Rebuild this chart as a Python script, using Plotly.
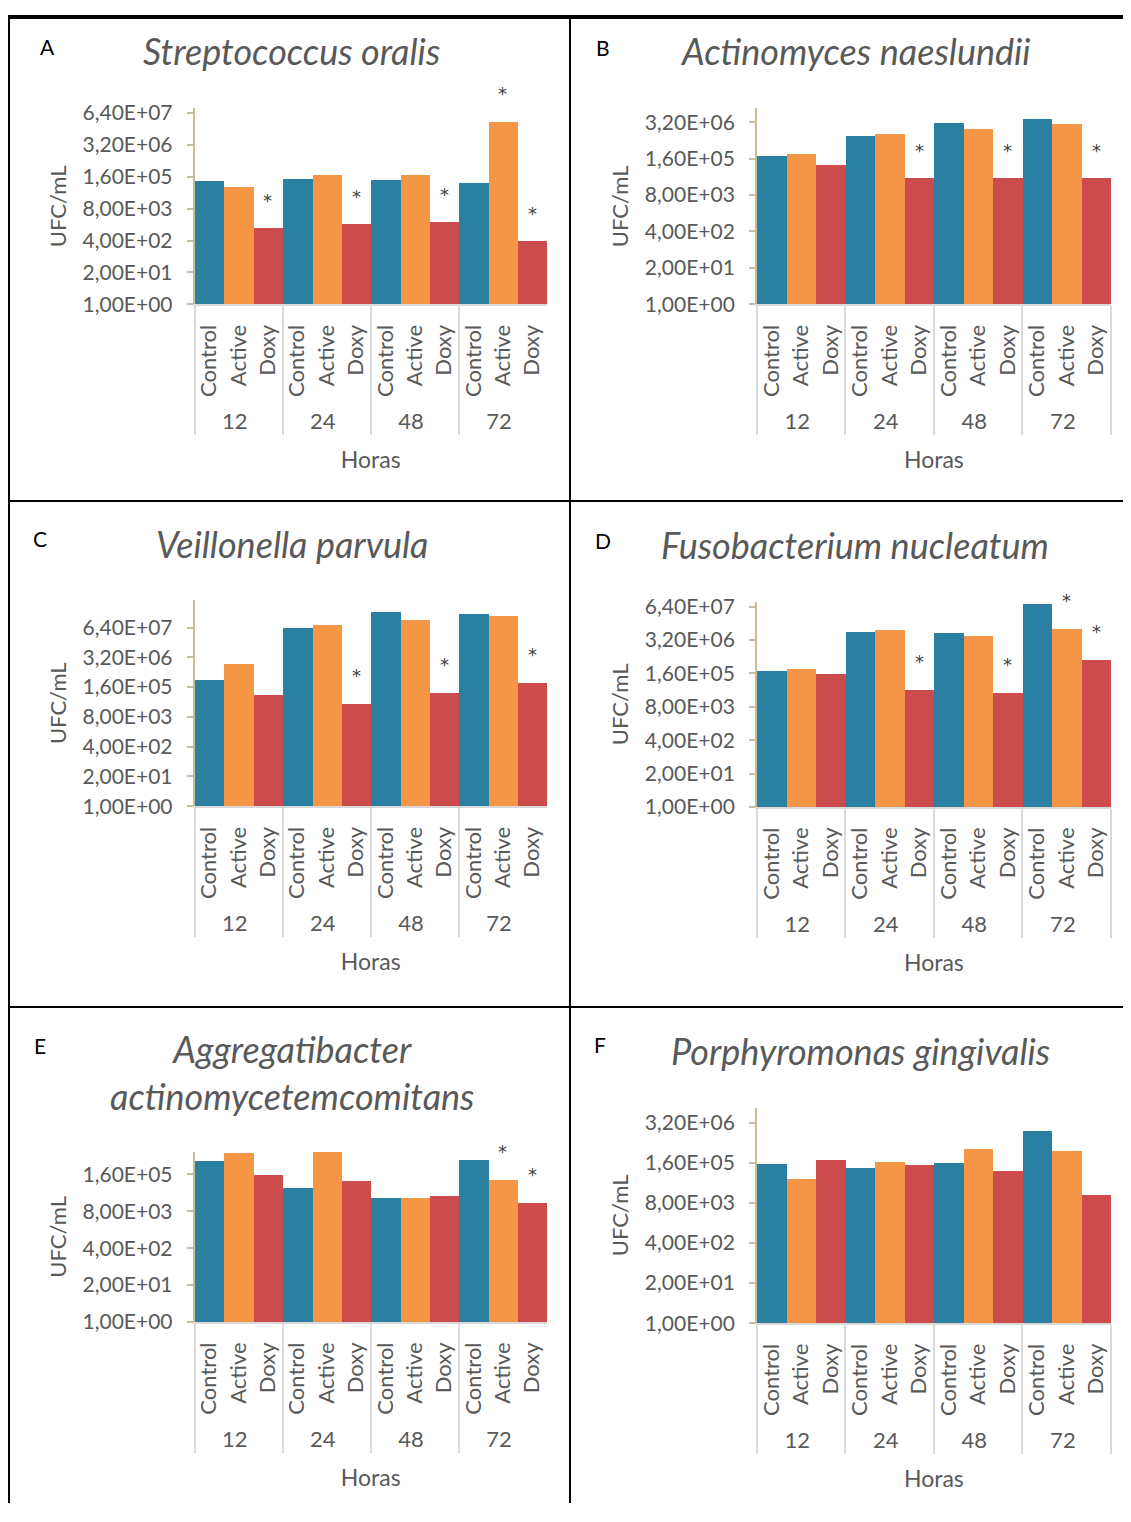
import math
import plotly.graph_objects as go

# the page body keeps its default 8px margin: the figure is sized to fit the window
OX, OY = 8, 8
FW, FH = 1131 - 2 * OX, 1522 - 2 * OY
# measured vertical mapping of the photograph (photo_y = SY * window_y + BY)
SY, BY = 0.9868, 8.1

hours = ["12", "24", "48", "72"]
treatments = ["Control", "Active", "Doxy"]
bar_colors = ["#2B7FA1", "#F59646", "#CC4B4C"]

letters = ["A", "B", "C", "D", "E", "F"]
titles = ["Streptococcus oralis", "Actinomyces naeslundii", "Veillonella parvula",
          "Fusobacterium nucleatum", "Aggregatibacter<br>actinomycetemcomitans",
          "Porphyromonas gingivalis"]

# UFC/mL values, one list per treatment, ordered by hours (12, 24, 48, 72)
A_control = [1.0e5, 1.23e5, 1.12e5, 8.5e4]
A_active = [5.8e4, 1.78e5, 1.78e5, 2.77e7]
A_doxy = [1.25e3, 1.82e3, 2.2e3, 372]

B_control = [1.87e5, 9.7e5, 2.8e6, 4.2e6]
B_active = [2.28e5, 1.17e6, 1.77e6, 2.7e6]
B_doxy = [9.2e4, 3.2e4, 3.2e4, 3.2e4]

C_control = [3.2e5, 6.0e7, 3.0e8, 2.45e8]
C_active = [1.66e6, 8.3e7, 1.38e8, 2.08e8]
C_doxy = [7.3e4, 2.95e4, 8.9e4, 2.45e5]

D_control = [2.04e5, 6.6e6, 6.3e6, 8.3e7]
D_active = [2.45e5, 7.9e6, 4.66e6, 8.7e6]
D_doxy = [1.58e5, 3.7e4, 2.9e4, 5.5e5]

E_control = [5.0e5, 5.2e4, 2.46e4, 5.3e5]
E_active = [9.6e5, 1.0e6, 2.46e4, 1.07e5]
E_doxy = [1.6e5, 9.8e4, 2.7e4, 1.6e4]

F_control = [1.47e5, 1.1e5, 1.59e5, 1.73e6]
F_active = [4.8e4, 1.83e5, 4.5e5, 3.9e5]
F_doxy = [2.0e5, 1.36e5, 9.3e4, 1.45e4]

# significance marks (1 = '*') per treatment, ordered by hours
A_sig = {"Control": [0, 0, 0, 0], "Active": [0, 0, 0, 1], "Doxy": [1, 1, 1, 1]}
B_sig = {"Control": [0, 0, 0, 0], "Active": [0, 0, 0, 0], "Doxy": [0, 1, 1, 1]}
C_sig = {"Control": [0, 0, 0, 0], "Active": [0, 0, 0, 0], "Doxy": [0, 1, 1, 1]}
D_sig = {"Control": [0, 0, 0, 0], "Active": [0, 0, 0, 1], "Doxy": [0, 1, 1, 1]}
E_sig = {"Control": [0, 0, 0, 0], "Active": [0, 0, 0, 1], "Doxy": [0, 0, 0, 1]}
F_sig = {"Control": [0, 0, 0, 0], "Active": [0, 0, 0, 0], "Doxy": [0, 0, 0, 0]}

tick_labels_all = ["1,00E+00", "2,00E+01", "4,00E+02", "8,00E+03", "1,60E+05", "3,20E+06", "6,40E+07"]
A_ticks = tick_labels_all[:7]
B_ticks = tick_labels_all[:6]
C_ticks = tick_labels_all[:7]
D_ticks = tick_labels_all[:7]
E_ticks = tick_labels_all[:5]
F_ticks = tick_labels_all[:6]

y_max_log = [8, 7, 9, 8, 6, 7]

panels = [
    (A_control, A_active, A_doxy, A_sig, A_ticks),
    (B_control, B_active, B_doxy, B_sig, B_ticks),
    (C_control, C_active, C_doxy, C_sig, C_ticks),
    (D_control, D_active, D_doxy, D_sig, D_ticks),
    (E_control, E_active, E_doxy, E_sig, E_ticks),
    (F_control, F_active, F_doxy, F_sig, F_ticks),
]

# plot areas in picture pixels: x0, x1, ytop, ybottom
boxes = [
    (194.5, 547, 107.3, 303.3),
    (756.8, 1111, 107.3, 303.3),
    (194.5, 547, 599.3, 805.3),
    (756.8, 1111, 600.7, 806.0),
    (194.5, 547, 1151.0, 1321.0),
    (756.8, 1111, 1106.7, 1322.3),
]
title_pos = [(291, 50), (855, 50), (292, 543), (855, 544), (292, 1072), (860, 1050)]
letter_pos = [(47, 45), (603, 46), (40, 538), (603, 540), (40, 1045), (600, 1044)]


def px(x):
    return (x - OX) / FW


def py(y):
    return 1 - ((y - BY) / SY - OY) / FH


def clamp(v):
    return max(0.0, min(1.0, v))


GRAY = "#595959"
FONT = "Lato"

fig = go.Figure()
layout = dict(width=FW, height=FH, margin=dict(l=0, r=0, t=0, b=0), autosize=False,
              paper_bgcolor="white", plot_bgcolor="white", showlegend=False,
              bargap=0, bargroupgap=0, barmode="overlay",
              font=dict(family=FONT, color=GRAY))

annotations = []
for i, (ctrl, act, dox, sig, ticks) in enumerate(panels):
    n = i + 1
    xa = "x" if n == 1 else f"x{n}"
    ya = "y" if n == 1 else f"y{n}"
    series = [ctrl, act, dox]
    for t, (name, vals, col) in enumerate(zip(treatments, series, bar_colors)):
        xs = [[h for h in hours], [name] * len(hours)]
        fig.add_trace(go.Bar(
            x=xs, y=vals, name=name, marker=dict(color=col, line=dict(width=0)),
            opacity=1, xaxis=xa, yaxis=ya))
        for h, (v, s) in enumerate(zip(vals, sig[name])):
            if s:
                annotations.append(dict(
                    text="*", x=h * len(treatments) + t, y=math.log10(v),
                    xref=xa, yref=ya, showarrow=False, xanchor="center",
                    yanchor="middle", yshift=28,
                    font=dict(size=18, color="#404040", family="DejaVu Sans")))
    x0, x1, yt, yb = boxes[i]
    tickvals = [float(s.replace(",", ".")) for s in ticks]
    layout["xaxis" if n == 1 else f"xaxis{n}"] = dict(
        domain=[px(x0), px(x1)], anchor=ya, type="multicategory",
        showline=True, linecolor="#D9D9D9", linewidth=1.5, ticks="",
        tickangle=-90, tickfont=dict(size=22, color=GRAY, family=FONT),
        ticklabelstandoff=10,
        showdividers=True, dividercolor="#D9D9D9", dividerwidth=1.5,
        showgrid=False, zeroline=False,
        title=dict(text="Horas", font=dict(size=23, color=GRAY, family=FONT), standoff=19))
    layout["yaxis" if n == 1 else f"yaxis{n}"] = dict(
        domain=[py(yb), py(yt)], anchor=xa, type="log",
        range=[0, y_max_log[i]], tickvals=tickvals, ticktext=ticks,
        showline=True, linecolor="#C8BD97", linewidth=1.5,
        ticks="outside", ticklen=6, tickcolor="#C8BD97", tickwidth=1.5,
        ticklabelstandoff=10,
        tickfont=dict(size=21, color=GRAY, family=FONT),
        showgrid=False, zeroline=False,
        title=dict(text="UFC/mL", font=dict(size=22, color=GRAY, family=FONT), standoff=10))
    tx, ty = title_pos[i]
    annotations.append(dict(text=titles[i], x=px(tx), y=py(ty), xref="paper", yref="paper",
                            showarrow=False, xanchor="center", yanchor="middle",
                            font=dict(size=36, color=GRAY, family=FONT, style="italic")))
    lx, ly = letter_pos[i]
    annotations.append(dict(text=letters[i], x=px(lx), y=py(ly), xref="paper", yref="paper",
                            showarrow=False, xanchor="center", yanchor="middle",
                            font=dict(size=21, color="black", family=FONT)))

shapes = []
for (a, b, c, d) in [(8, 8, 1131, 8), (8, 8, 8, 1522), (570, 8, 570, 1522),
                     (8, 500, 1131, 500), (8, 1006, 1131, 1006)]:
    x0s, x1s = clamp(px(a)), clamp(px(c))
    y0s, y1s = clamp(py(b)), clamp(py(d))
    on_edge = (x0s == x1s and x0s in (0.0, 1.0)) or (y0s == y1s and y0s in (0.0, 1.0))
    shapes.append(dict(type="line", xref="paper", yref="paper",
                       x0=x0s, x1=x1s, y0=y0s, y1=y1s,
                       line=dict(color="black", width=4 if on_edge else 2)))

layout["annotations"] = annotations
layout["shapes"] = shapes
fig.update_layout(**layout)
fig.write_html("out.html", config={"displayModeBar": False})
